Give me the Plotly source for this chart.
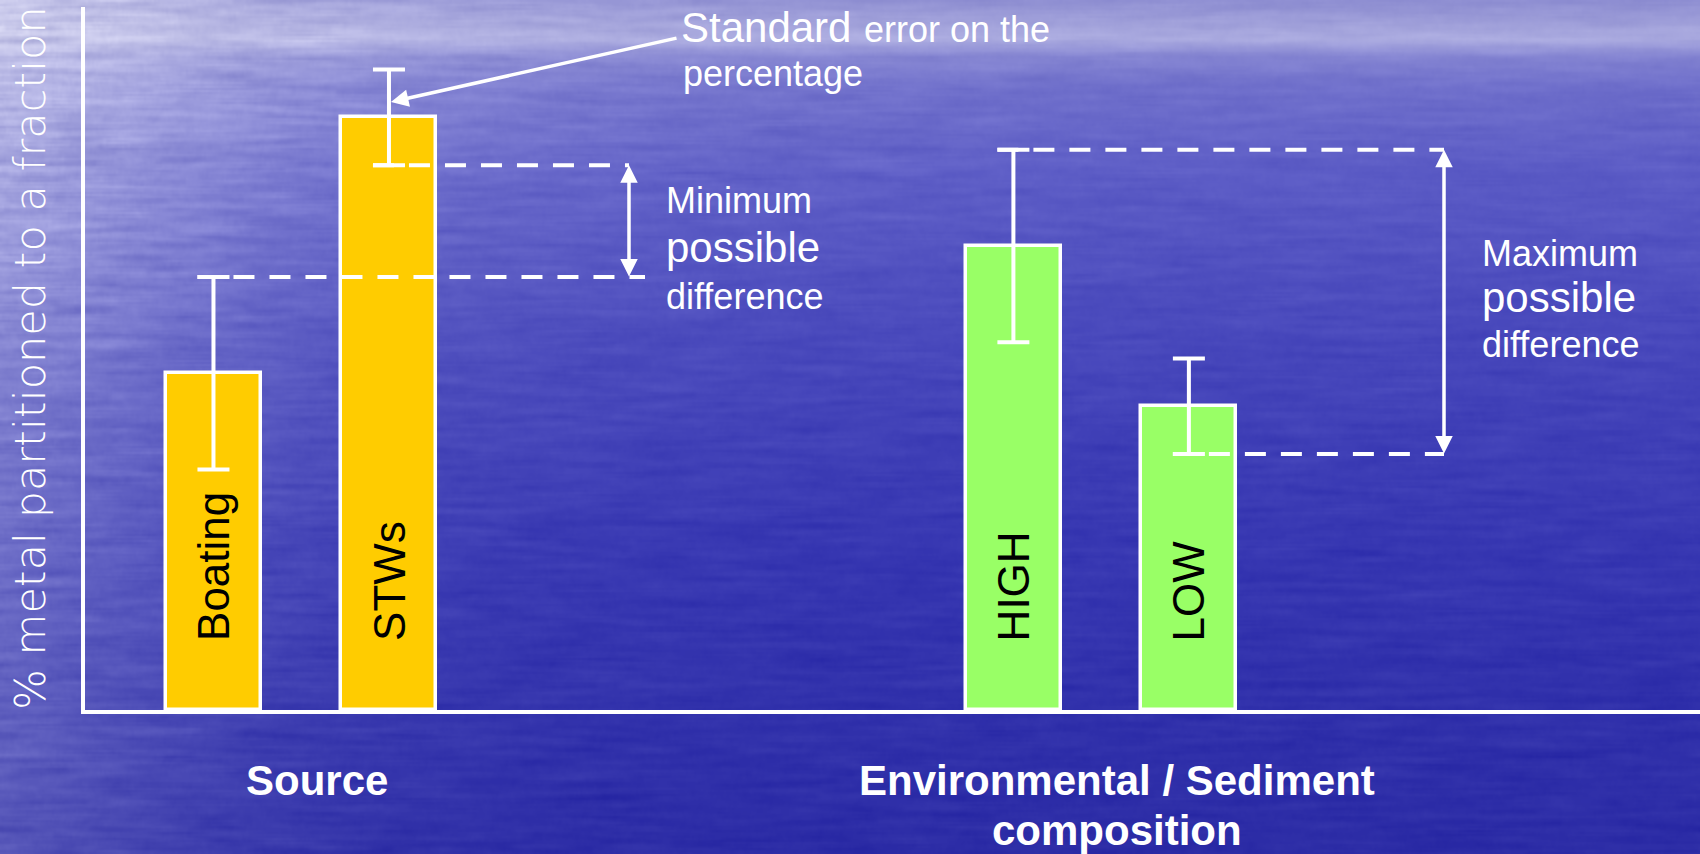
import base64
import struct
import zlib

import numpy as np
import plotly.graph_objects as go

# ---- data -------------------------------------------------------------
categories = ["Boating", "STWs", "HIGH", "LOW"]
values = [47.9, 84.3, 66.0, 43.2]          # % metal partitioned to a fraction
std_errors = [13.7, 6.8, 13.7, 6.8]        # standard error on the percentage
group_labels = ["Source", "Environmental / Sediment", "composition"]

# ---- layout ---------------------------------------------------------------
W, H = 1700, 854
PLOT_L, PLOT_R, PLOT_T, PLOT_B = 85, 1700, 7, 710
PW, PH = PLOT_R - PLOT_L, PLOT_B - PLOT_T
XU = 175.5                                  # pixels per x unit
X0 = 0.268
X_RANGE = [X0, X0 + PW / XU]
Y_RANGE = [0, 100]
slots = [1.0, 2.0, 5.558, 6.558]            # bar centres on the x axis
bar_colors = ["#FFCC00", "#FFCC00", "#99FF66", "#99FF66"]
BAR_W = 0.541
CAP = 16                                    # error-bar cap half width, px
FONT = "Liberation Sans, Arial, Helvetica, sans-serif"


def fx(px):
    return X0 + (px - PLOT_L) / XU


def fy(py):
    return (PLOT_B - py) / (PH / (Y_RANGE[1] - Y_RANGE[0]))


def paper_x(px):
    return (px - PLOT_L) / PW


def paper_y(py):
    return (PLOT_B - py) / PH


def water_background(w, h, seed=11):
    """Blue sea-like backdrop with a hazy top band and horizontal ripples."""
    yf = np.linspace(0, 1, h)
    xf = np.linspace(0, 1, w)
    stops = [0.0, 0.03, 0.045, 0.065, 0.10, 0.20, 0.40, 0.65, 1.0]
    cols = np.array([
        (142, 142, 210), (162, 162, 219), (172, 172, 225), (132, 132, 210),
        (112, 112, 204), (92, 92, 198), (72, 72, 188), (55, 55, 178),
        (44, 44, 166)], dtype=float)
    prof = np.stack([np.interp(yf, stops, cols[:, c]) for c in range(3)], axis=1)
    img = np.repeat(prof[:, None, :], w, axis=1)

    xpx = xf[None, :] * W
    ypx = yf[:, None] * H
    haze = 0.50 * np.exp(-(xpx / 250.0) ** 1.3) * (1.0 - 0.55 * ypx / H)
    haze += 0.20 * np.exp(-(xpx / 700.0) ** 2) * np.exp(-(ypx / 280.0) ** 2)
    white = np.array([222, 222, 244], dtype=float)
    img = img * (1 - haze[..., None]) + white * haze[..., None]

    rng = np.random.default_rng(seed)
    n = rng.standard_normal((h, w))

    def blur(a, k, axis):
        pad = [(0, 0), (0, 0)]
        pad[axis] = (k, k)
        c = np.cumsum(np.pad(a, pad, mode="wrap"), axis=axis)
        c = np.concatenate([np.zeros_like(np.take(c, [0], axis=axis)), c], axis=axis)
        m = a.shape[axis]
        hi = np.take(c, np.arange(2 * k + 1, 2 * k + 1 + m), axis=axis)
        lo = np.take(c, np.arange(0, m), axis=axis)
        return (hi - lo) / (2 * k + 1)

    n = blur(n, 14, 1)
    n = blur(n, 1, 0)
    n /= n.std()
    amp = 2.5 + 9.0 * haze
    img += (amp * n)[..., None] * np.array([1.0, 1.0, 0.6])
    return np.clip(img, 0, 255).astype(np.uint8)


def png_data_uri(rgb):
    h, w, _ = rgb.shape
    raw = b"".join(b"\x00" + rgb[i].tobytes() for i in range(h))

    def chunk(tag, data):
        return (struct.pack(">I", len(data)) + tag + data
                + struct.pack(">I", zlib.crc32(tag + data) & 0xFFFFFFFF))

    png = (b"\x89PNG\r\n\x1a\n"
           + chunk(b"IHDR", struct.pack(">IIBBBBB", w, h, 8, 2, 0, 0, 0))
           + chunk(b"IDAT", zlib.compress(raw, 9))
           + chunk(b"IEND", b""))
    return "data:image/png;base64," + base64.b64encode(png).decode()


fig = go.Figure()
fig.add_trace(go.Bar(
    x=slots, y=values, width=BAR_W,
    marker=dict(color=bar_colors, line=dict(color="white", width=3.5)),
    error_y=dict(type="data", array=std_errors, visible=True,
                 color="white", thickness=4, width=CAP),
    hoverinfo="skip", showlegend=False,
))

lo = [v - e for v, e in zip(values, std_errors)]
hi = [v + e for v, e in zip(values, std_errors)]
cap_u = CAP / XU
dash = dict(color="white", width=4, dash="21px,15px")
min_x, max_x = fx(629), fx(1444)
guides = [
    (slots[1] - cap_u, min_x, lo[1]),
    (slots[0] - cap_u, fx(645), hi[0]),
    (slots[2] - cap_u, max_x, hi[2]),
    (slots[3] - cap_u, max_x, lo[3]),
]
for x0, x1, yv in guides:
    fig.add_shape(type="line", xref="x", yref="y", x0=x0, x1=x1, y0=yv, y1=yv,
                  line=dash, layer="above")

ann = []


def text_at(px, baseline, text, size, anchor="left", color="white"):
    ann.append(dict(x=paper_x(px), y=paper_y(baseline - 0.3465 * size),
                    xref="paper", yref="paper",
                    text=text, showarrow=False, xanchor=anchor, yanchor="middle",
                    font=dict(size=size, color=color, family=FONT),
                    borderpad=0, borderwidth=0))


def double_arrow(x, y_top, y_bottom):
    ann.append(dict(x=x, y=y_top, ax=x, ay=y_bottom, xref="x", yref="y",
                    axref="x", ayref="y", text="", showarrow=True,
                    arrowhead=2, startarrowhead=2, arrowside="end+start",
                    arrowsize=1.0, startarrowsize=1.0, arrowwidth=3.5,
                    arrowcolor="white", standoff=0, startstandoff=0,
                    borderpad=0))


# bar names, written up the bars
for s, name in zip(slots, categories):
    ann.append(dict(x=s, y=fy(642), xref="x", yref="y", text=name,
                    showarrow=False, textangle=-90, xanchor="center",
                    yanchor="bottom", borderpad=0,
                    font=dict(size=44, color="black", family=FONT)))

# standard-error callout
ann.append(dict(x=slots[1] + 2 / XU, y=fy(102), ax=fx(677), ay=fy(38),
                xref="x", yref="y", axref="x", ayref="y", text="",
                showarrow=True, arrowhead=2, arrowsize=1.0, arrowwidth=3.5,
                arrowcolor="white", standoff=0, borderpad=0))
text_at(681, 42, "Standard", 42)
text_at(864, 42, "error on the", 36)
text_at(683, 86, "percentage", 36)

# minimum / maximum possible difference
double_arrow(min_x, lo[1], hi[0])
double_arrow(max_x, hi[2], lo[3])
text_at(666, 213, "Minimum", 36)
text_at(666, 262, "possible", 42)
text_at(666, 309, "difference", 36)
text_at(1482, 266, "Maximum", 36)
text_at(1482, 312, "possible", 42)
text_at(1482, 357, "difference", 36)

# group labels under the axis
text_at(317, 795, "<b>%s</b>" % group_labels[0], 42, anchor="center")
text_at(1117, 795, "<b>%s</b>" % group_labels[1], 42, anchor="center")
text_at(1117, 845, "<b>%s</b>" % group_labels[2], 42, anchor="center")

# y axis title
ann.append(dict(x=paper_x(30), y=paper_y(358), xref="paper", yref="paper",
                text="% metal partitioned to a fraction", textangle=-90,
                showarrow=False, xanchor="center", yanchor="middle",
                borderpad=0,
                font=dict(size=43, color="white",
                          family="DejaVu Sans, Open Sans, sans-serif", weight=200)))

bg = water_background(850, 427)

fig.update_layout(
    width=W, height=H, autosize=False,
    margin=dict(l=PLOT_L, r=W - PLOT_R, t=PLOT_T, b=H - PLOT_B, pad=0),
    paper_bgcolor="#4646b4", plot_bgcolor="rgba(0,0,0,0)",
    bargap=0,
    xaxis=dict(range=X_RANGE, showgrid=False, zeroline=False, showticklabels=False,
               ticks="", showline=True, linecolor="white", linewidth=4),
    yaxis=dict(range=Y_RANGE, showgrid=False, zeroline=False, showticklabels=False,
               ticks="", showline=True, linecolor="white", linewidth=4),
    annotations=ann,
    images=[dict(source=png_data_uri(bg), xref="paper", yref="paper",
                 x=-PLOT_L / PW, y=1 + PLOT_T / PH, sizex=W / PW, sizey=H / PH,
                 xanchor="left", yanchor="top", sizing="stretch", layer="below")],
)

fig.write_html("out.html", config={"displayModeBar": False})
